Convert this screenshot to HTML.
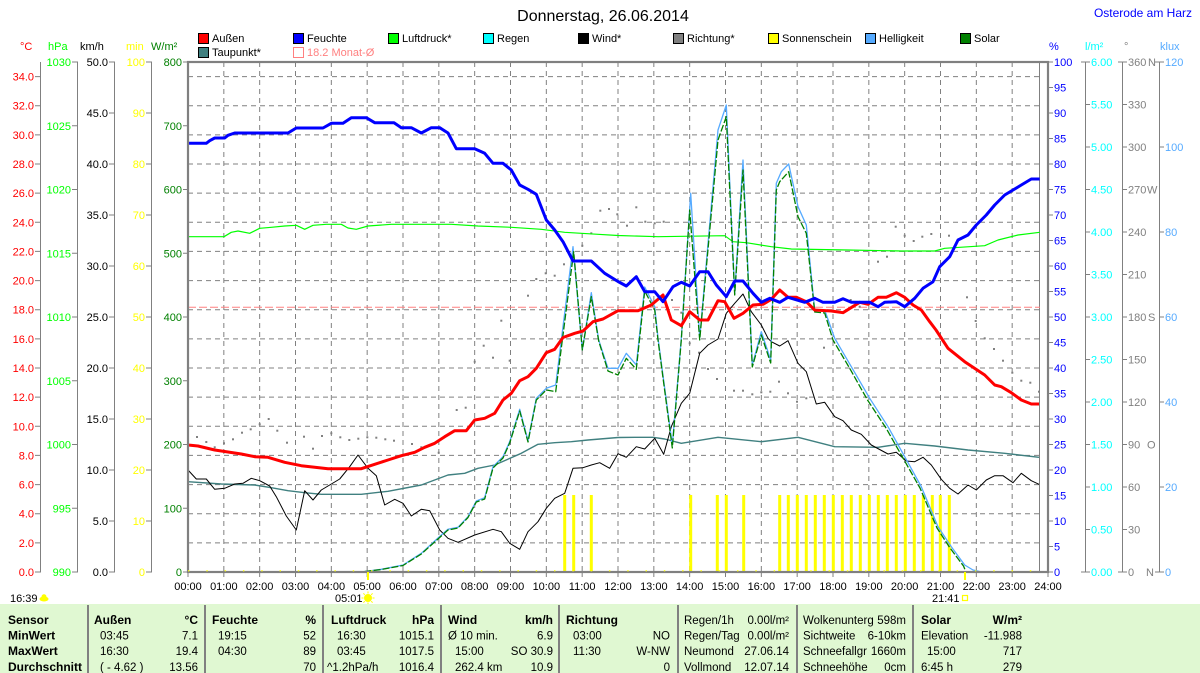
<!DOCTYPE html>
<html><head><meta charset="utf-8"><style>
html,body{margin:0;padding:0;background:#fff;}
svg{display:block;font-family:"Liberation Sans",Arial,sans-serif;}
.b{font-weight:bold;font-size:12px;}
.r{font-size:11.5px;}
</style></head><body>
<svg width="1200" height="673" viewBox="0 0 1200 673" xmlns="http://www.w3.org/2000/svg">
<rect width="1200" height="673" fill="#fff"/>
<!-- title -->
<text x="603" y="21" font-size="16" text-anchor="middle" fill="#000">Donnerstag, 26.06.2014</text>
<text x="1192" y="17" font-size="12" text-anchor="end" fill="#0000FF">Osterode am Harz</text>

<!-- legend -->
<g font-size="11" fill="#000">
<rect x="198.5" y="33.5" width="10" height="10" fill="#FF0000" stroke="#000"/><text x="212" y="42">Außen</text>
<rect x="293.5" y="33.5" width="10" height="10" fill="#0000FF" stroke="#000"/><text x="307" y="42">Feuchte</text>
<rect x="388.5" y="33.5" width="10" height="10" fill="#00FF00" stroke="#000"/><text x="402" y="42">Luftdruck*</text>
<rect x="483.5" y="33.5" width="10" height="10" fill="#00FFFF" stroke="#000"/><text x="497" y="42">Regen</text>
<rect x="578.5" y="33.5" width="10" height="10" fill="#000000" stroke="#000"/><text x="592" y="42">Wind*</text>
<rect x="673.5" y="33.5" width="10" height="10" fill="#808080" stroke="#000"/><text x="687" y="42">Richtung*</text>
<rect x="768.5" y="33.5" width="10" height="10" fill="#FFFF00" stroke="#000"/><text x="782" y="42">Sonnenschein</text>
<rect x="865.5" y="33.5" width="10" height="10" fill="#55AAFF" stroke="#000"/><text x="879" y="42">Helligkeit</text>
<rect x="960.5" y="33.5" width="10" height="10" fill="#008000" stroke="#000"/><text x="974" y="42">Solar</text>
<rect x="198.5" y="47.5" width="10" height="10" fill="#408080" stroke="#000"/><text x="212" y="56">Taupunkt*</text>
<rect x="293.5" y="47.5" width="10" height="10" fill="none" stroke="#FF8080"/><text x="307" y="56" fill="#FF8080">18.2 Monat-Ø</text>
</g>

<!-- axis headers -->
<g font-size="11">
<text x="20" y="50" fill="#FF0000">°C</text>
<text x="48" y="50" fill="#00FF00">hPa</text>
<text x="80" y="50" fill="#000">km/h</text>
<text x="126" y="50" fill="#FFFF00">min</text>
<text x="151" y="50" fill="#008000">W/m²</text>
<text x="1049" y="50" fill="#0000FF">%</text>
<text x="1085" y="50" fill="#00FFFF">l/m²</text>
<text x="1124" y="50" fill="#808080">°</text>
<text x="1160" y="50" fill="#55AAFF">klux</text>
</g>

<!-- grid -->
<g stroke="#808080" stroke-width="1" stroke-dasharray="5 4" fill="none">
<path d="M188 76.57H1040M188 105.71H1040M188 134.86H1040M188 164H1040M188 193.14H1040M188 222.29H1040M188 251.43H1040M188 280.57H1040M188 309.71H1040M188 338.86H1040M188 368H1040M188 397.14H1040M188 426.29H1040M188 455.43H1040M188 484.57H1040M188 513.71H1040M188 542.86H1040"/>
<path d="M223.83 62V572M259.67 62V572M295.5 62V572M331.33 62V572M367.17 62V572M403 62V572M438.83 62V572M474.67 62V572M510.5 62V572M546.33 62V572M582.17 62V572M618 62V572M653.83 62V572M689.67 62V572M725.5 62V572M761.33 62V572M797.17 62V572M833 62V572M868.83 62V572M904.67 62V572M940.5 62V572M976.33 62V572M1012.17 62V572"/>
</g>
<line x1="1039.5" y1="62" x2="1039.5" y2="572" stroke="#808080" stroke-width="1"/>

<!-- left axes -->
<g stroke="#808080" stroke-width="1" fill="none">
<path d="M40.5 62V572M77.5 62V572M114.5 62V572M151.5 62V572"/>
<path d="M35 572H41M35 542.86H41M35 513.71H41M35 484.57H41M35 455.43H41M35 426.29H41M35 397.14H41M35 368H41M35 338.86H41M35 309.71H41M35 280.57H41M35 251.43H41M35 222.29H41M35 193.14H41M35 164H41M35 134.86H41M35 105.71H41M35 76.57H41"/>
<path d="M72 572H78M72 508.25H78M72 444.5H78M72 380.75H78M72 317H78M72 253.25H78M72 189.5H78M72 125.75H78M72 62H78"/>
<path d="M109 572H115M109 521H115M109 470H115M109 419H115M109 368H115M109 317H115M109 266H115M109 215H115M109 164H115M109 113H115M109 62H115"/>
<path d="M146 572H152M146 521H152M146 470H152M146 419H152M146 368H152M146 317H152M146 266H152M146 215H152M146 164H152M146 113H152M146 62H152"/>
<path d="M183 572H188M183 508.25H188M183 444.5H188M183 380.75H188M183 317H188M183 253.25H188M183 189.5H188M183 125.75H188M183 62H188"/>
</g>
<g font-size="11" text-anchor="end">
<g fill="#FF0000">
<text x="34" y="576">0.0</text><text x="34" y="546.9">2.0</text><text x="34" y="517.7">4.0</text><text x="34" y="488.6">6.0</text><text x="34" y="459.4">8.0</text><text x="34" y="430.3">10.0</text><text x="34" y="401.1">12.0</text><text x="34" y="372">14.0</text><text x="34" y="342.9">16.0</text><text x="34" y="313.7">18.0</text><text x="34" y="284.6">20.0</text><text x="34" y="255.4">22.0</text><text x="34" y="226.3">24.0</text><text x="34" y="197.1">26.0</text><text x="34" y="168">28.0</text><text x="34" y="138.9">30.0</text><text x="34" y="109.7">32.0</text><text x="34" y="80.6">34.0</text>
</g>
<g fill="#00FF00">
<text x="71" y="576">990</text><text x="71" y="512.3">995</text><text x="71" y="448.5">1000</text><text x="71" y="384.8">1005</text><text x="71" y="321">1010</text><text x="71" y="257.3">1015</text><text x="71" y="193.5">1020</text><text x="71" y="129.8">1025</text><text x="71" y="66">1030</text>
</g>
<g fill="#000">
<text x="108" y="576">0.0</text><text x="108" y="525">5.0</text><text x="108" y="474">10.0</text><text x="108" y="423">15.0</text><text x="108" y="372">20.0</text><text x="108" y="321">25.0</text><text x="108" y="270">30.0</text><text x="108" y="219">35.0</text><text x="108" y="168">40.0</text><text x="108" y="117">45.0</text><text x="108" y="66">50.0</text>
</g>
<g fill="#FFFF00">
<text x="145" y="576">0</text><text x="145" y="525">10</text><text x="145" y="474">20</text><text x="145" y="423">30</text><text x="145" y="372">40</text><text x="145" y="321">50</text><text x="145" y="270">60</text><text x="145" y="219">70</text><text x="145" y="168">80</text><text x="145" y="117">90</text><text x="145" y="66">100</text>
</g>
<g fill="#008000">
<text x="182" y="576">0</text><text x="182" y="512.3">100</text><text x="182" y="448.5">200</text><text x="182" y="384.8">300</text><text x="182" y="321">400</text><text x="182" y="257.3">500</text><text x="182" y="193.5">600</text><text x="182" y="129.8">700</text><text x="182" y="66">800</text>
</g>
</g>

<!-- right axes -->
<g stroke="#808080" stroke-width="1" fill="none">
<path d="M1085.5 62V572M1122.5 62V572M1159.5 62V572"/>
<path d="M1048 572H1053M1048 546.5H1053M1048 521H1053M1048 495.5H1053M1048 470H1053M1048 444.5H1053M1048 419H1053M1048 393.5H1053M1048 368H1053M1048 342.5H1053M1048 317H1053M1048 291.5H1053M1048 266H1053M1048 240.5H1053M1048 215H1053M1048 189.5H1053M1048 164H1053M1048 138.5H1053M1048 113H1053M1048 87.5H1053M1048 62H1053"/>
<path d="M1081 572H1090M1085 529.5H1090M1085 487H1090M1085 444.5H1090M1085 402H1090M1085 359.5H1090M1085 317H1090M1085 274.5H1090M1085 232H1090M1085 189.5H1090M1085 147H1090M1085 104.5H1090M1081 62H1090"/>
<path d="M1118 572H1127M1122 529.5H1127M1122 487H1127M1122 444.5H1127M1122 402H1127M1122 359.5H1127M1122 317H1127M1122 274.5H1127M1122 232H1127M1122 189.5H1127M1122 147H1127M1122 104.5H1127M1118 62H1127"/>
<path d="M1155 572H1164M1159 487H1164M1159 402H1164M1159 317H1164M1159 232H1164M1159 147H1164M1155 62H1164"/>
</g>
<g font-size="11">
<g fill="#0000FF">
<text x="1054" y="576">0</text><text x="1054" y="550.5">5</text><text x="1054" y="525">10</text><text x="1054" y="499.5">15</text><text x="1054" y="474">20</text><text x="1054" y="448.5">25</text><text x="1054" y="423">30</text><text x="1054" y="397.5">35</text><text x="1054" y="372">40</text><text x="1054" y="346.5">45</text><text x="1054" y="321">50</text><text x="1054" y="295.5">55</text><text x="1054" y="270">60</text><text x="1054" y="244.5">65</text><text x="1054" y="219">70</text><text x="1054" y="193.5">75</text><text x="1054" y="168">80</text><text x="1054" y="142.5">85</text><text x="1054" y="117">90</text><text x="1054" y="91.5">95</text><text x="1054" y="66">100</text>
</g>
<g fill="#00FFFF">
<text x="1091" y="576">0.00</text><text x="1091" y="533.5">0.50</text><text x="1091" y="491">1.00</text><text x="1091" y="448.5">1.50</text><text x="1091" y="406">2.00</text><text x="1091" y="363.5">2.50</text><text x="1091" y="321">3.00</text><text x="1091" y="278.5">3.50</text><text x="1091" y="236">4.00</text><text x="1091" y="193.5">4.50</text><text x="1091" y="151">5.00</text><text x="1091" y="108.5">5.50</text><text x="1091" y="66">6.00</text>
</g>
<g fill="#808080">
<text x="1128" y="576">0</text><text x="1146" y="576">N</text>
<text x="1128" y="533.5">30</text><text x="1128" y="491">60</text>
<text x="1128" y="448.5">90</text><text x="1147" y="448.5">O</text>
<text x="1128" y="406">120</text><text x="1128" y="363.5">150</text>
<text x="1128" y="321">180</text><text x="1148" y="321">S</text>
<text x="1128" y="278.5">210</text><text x="1128" y="236">240</text>
<text x="1128" y="193.5">270</text><text x="1147" y="193.5">W</text>
<text x="1128" y="151">300</text><text x="1128" y="108.5">330</text>
<text x="1128" y="66">360</text><text x="1148" y="66">N</text>
</g>
<g fill="#55AAFF">
<text x="1165" y="576">0</text><text x="1165" y="491">20</text><text x="1165" y="406">40</text><text x="1165" y="321">60</text><text x="1165" y="236">80</text><text x="1165" y="151">100</text><text x="1165" y="66">120</text>
</g>
</g>

<!-- sunshine bars -->
<g fill="#FFFF00">
<rect x="563.2" y="495" width="3" height="77"/><rect x="572.2" y="495" width="3" height="77"/><rect x="589.8" y="495" width="3" height="77"/>
<rect x="689.2" y="495" width="3" height="77"/><rect x="715.8" y="495" width="3" height="77"/><rect x="724.8" y="495" width="3" height="77"/><rect x="742.2" y="495" width="3" height="77"/>
<rect x="778.2" y="495" width="3" height="77"/><rect x="786.8" y="495" width="3" height="77"/><rect x="795.8" y="495" width="3" height="77"/><rect x="804.8" y="495" width="3" height="77"/><rect x="813.8" y="495" width="3" height="77"/><rect x="822.8" y="495" width="3" height="77"/><rect x="831.8" y="495" width="3" height="77"/><rect x="840.8" y="495" width="3" height="77"/><rect x="849.8" y="495" width="3" height="77"/><rect x="858.8" y="495" width="3" height="77"/><rect x="867.8" y="495" width="3" height="77"/><rect x="876.8" y="495" width="3" height="77"/><rect x="885.8" y="495" width="3" height="77"/><rect x="894.8" y="495" width="3" height="77"/><rect x="903.8" y="495" width="3" height="77"/><rect x="912.8" y="495" width="3" height="77"/><rect x="921.8" y="495" width="3" height="77"/><rect x="930.8" y="495" width="3" height="77"/><rect x="938.8" y="495" width="3" height="77"/><rect x="947.8" y="495" width="3" height="77"/>
</g>

<!-- month average -->
<line x1="188" y1="307.3" x2="1040" y2="307.3" stroke="#FF8080" stroke-width="1" stroke-dasharray="8 3"/>

<!-- Richtung dots -->
<g fill="#808080">
<rect x="196" y="436" width="2" height="2"/><rect x="205.3" y="441" width="2" height="2"/><rect x="213.7" y="446.3" width="2" height="2"/><rect x="223" y="442.3" width="2" height="2"/><rect x="232" y="438.3" width="2" height="2"/><rect x="241" y="431.7" width="2" height="2"/><rect x="249.7" y="428.3" width="2" height="2"/><rect x="258.7" y="423.3" width="2" height="2"/><rect x="267.7" y="418" width="2" height="2"/><rect x="276.3" y="429.7" width="2" height="2"/><rect x="286" y="441.7" width="2" height="2"/><rect x="303" y="435.7" width="2" height="2"/><rect x="312" y="447.7" width="2" height="2"/><rect x="321" y="435" width="2" height="2"/><rect x="330.3" y="432.3" width="2" height="2"/><rect x="339.3" y="436.3" width="2" height="2"/><rect x="348.3" y="439" width="2" height="2"/><rect x="357.3" y="437.7" width="2" height="2"/><rect x="366.3" y="436.3" width="2" height="2"/><rect x="375.3" y="436.7" width="2" height="2"/><rect x="384.3" y="438.3" width="2" height="2"/><rect x="393" y="439.7" width="2" height="2"/><rect x="411" y="443" width="2" height="2"/><rect x="420.3" y="446.3" width="2" height="2"/><rect x="437.7" y="451.7" width="2" height="2"/><rect x="455.7" y="409" width="2" height="2"/><rect x="464.7" y="406.7" width="2" height="2"/><rect x="473.7" y="360.7" width="2" height="2"/><rect x="482.7" y="344.7" width="2" height="2"/><rect x="492" y="356.7" width="2" height="2"/><rect x="500.3" y="319.7" width="2" height="2"/><rect x="508.7" y="359.7" width="2" height="2"/><rect x="527" y="294.7" width="2" height="2"/><rect x="535.3" y="278" width="2" height="2"/><rect x="544.7" y="272.3" width="2" height="2"/><rect x="553.7" y="274.7" width="2" height="2"/><rect x="563" y="263.3" width="2" height="2"/><rect x="572" y="251.7" width="2" height="2"/><rect x="581.3" y="244.7" width="2" height="2"/><rect x="590.3" y="232.3" width="2" height="2"/><rect x="599.3" y="209.7" width="2" height="2"/><rect x="608" y="208" width="2" height="2"/><rect x="616.3" y="213.3" width="2" height="2"/><rect x="626" y="224.7" width="2" height="2"/><rect x="635.3" y="206.3" width="2" height="2"/><rect x="644.3" y="220.7" width="2" height="2"/><rect x="653.7" y="222.3" width="2" height="2"/><rect x="662.7" y="220.7" width="2" height="2"/><rect x="671" y="299" width="2" height="2"/><rect x="680.3" y="311.7" width="2" height="2"/><rect x="688.7" y="342.3" width="2" height="2"/><rect x="698" y="351.7" width="2" height="2"/><rect x="707" y="368" width="2" height="2"/><rect x="716" y="378" width="2" height="2"/><rect x="733" y="389.7" width="2" height="2"/><rect x="742" y="389.7" width="2" height="2"/><rect x="751.3" y="393.3" width="2" height="2"/><rect x="760.3" y="391.3" width="2" height="2"/><rect x="769.3" y="390.7" width="2" height="2"/><rect x="778" y="380.7" width="2" height="2"/><rect x="787" y="392.3" width="2" height="2"/><rect x="796" y="400.7" width="2" height="2"/><rect x="805.3" y="397.3" width="2" height="2"/><rect x="823" y="346.7" width="2" height="2"/><rect x="849.7" y="299" width="2" height="2"/><rect x="858.7" y="305.7" width="2" height="2"/><rect x="867.7" y="302.3" width="2" height="2"/><rect x="877" y="260.7" width="2" height="2"/><rect x="886" y="255.7" width="2" height="2"/><rect x="894.7" y="225.7" width="2" height="2"/><rect x="903.7" y="234.7" width="2" height="2"/><rect x="912.7" y="240" width="2" height="2"/><rect x="921.3" y="235.7" width="2" height="2"/><rect x="930.3" y="233" width="2" height="2"/><rect x="948" y="234.7" width="2" height="2"/><rect x="966" y="296.3" width="2" height="2"/><rect x="974.7" y="320" width="2" height="2"/><rect x="983.7" y="337.3" width="2" height="2"/><rect x="993" y="348" width="2" height="2"/><rect x="1002" y="359.7" width="2" height="2"/><rect x="1011.3" y="371.7" width="2" height="2"/><rect x="1020.3" y="379.7" width="2" height="2"/><rect x="1029.3" y="381.7" width="2" height="2"/><rect x="1038" y="390.7" width="2" height="2"/>
</g>

<!-- series -->
<g fill="none" stroke-linejoin="round">
<polyline stroke="#408080" stroke-width="1.4" points="188,481.7 221.3,484 254.7,485 271.3,487.7 288,490.7 304.7,492.7 321.3,494.3 361.3,494.3 388,491.3 421.3,485 448,475 464.7,473.3 478,468.3 494.7,465 521.3,453.3 538,444.3 554.7,442.7 571.3,441.7 588,440 618,437.5 634.7,437.3 653,437.3 664.7,439 681.3,443.3 718,437.3 761.3,441.7 798,437.3 834.7,446.7 878,447.3 904.7,443.3 934.7,446 968,450 1004.7,453.3 1039,457.3"/>
<polyline stroke="#000" stroke-width="1" points="188,470 196.3,479 206.3,479 214.7,489.3 224.7,488.3 234.7,484 243,483.3 251.3,478.3 259.7,480.7 269.7,486 276.3,496.7 286.3,516 296.3,530 304.7,490.7 313,500 321.3,490 329.7,485 339.7,479 349.7,466.7 358,455 368,468.3 376.3,475.7 384.7,505 394.7,499.3 403,503.3 411.3,516 421.3,509.3 429.7,510.7 439.7,530 448,538.3 458,542.3 474.7,535 493,529.3 501.3,531.7 509.7,543.3 519.7,549.3 528,531.7 538,521.7 546.3,508.3 554.7,498.3 564.7,493.3 573,468.3 583,467.7 591.3,465 599.7,462.7 609.7,468.3 618,453.7 626.3,457.3 636.3,446.7 644.7,449 654.7,438.3 663.7,454.3 671.3,426.7 681.3,403.3 689.7,393.3 699.7,353.3 708,345 718,339 726.3,313.3 734.7,303.3 743,294 751.3,311.7 761.3,325 768,338.3 771.3,341.7 779.7,346 788,340.7 798,363.3 806.3,371.7 816.3,404 824.7,402.3 834.7,416.7 843,420.7 851.3,430 861.3,434.3 871.3,445 888,454 896.3,452.3 906.3,461 914.7,461.7 923,457.3 931.3,465 941.3,479.3 949.7,488.3 958,494 968,485 976.3,490 986.3,480 994.7,475.7 1003,475.7 1013,482.7 1021.3,473.3 1031.3,480.7 1039,484.3"/>
<polyline stroke="#00FF00" stroke-width="1.2" points="188,236.7 224,236.7 231.3,232.3 238,231 249.7,233.3 259.7,228.3 271.3,227.3 284.7,226 296.3,225.3 304.7,229.3 313,225.3 326.3,224.3 341.3,224.3 348,228 356.3,229.3 368,226 391.3,224.3 451.3,224.3 478,226 511.3,227.3 541.3,229.3 564.7,232.3 581.3,233.3 598,234.3 618,235.5 658,236.7 724.7,235.7 733,241.7 746.3,242.7 771.3,246.7 791.3,249 848,250 901.3,251 934.7,251 944.7,248.3 984.7,245.7 998,240 1018,235 1039.7,232.3"/>
<polyline stroke="#55AAFF" stroke-width="1.3" points="364.7,571.5 381.3,569.3 403,565 421.3,553.3 441.3,535 448,529.3 458,527.3 468,516.7 476.3,501 484.7,497.7 493,466.7 503,456.7 509.7,441.7 519.7,409.3 528,440.7 536.3,398.3 546.3,388.3 555.7,385 573,246.7 582.3,350 591.3,292.7 598.7,340 608,368.3 618,368.3 626.3,353.3 636.3,365 644.7,287 654.7,306.7 658,338 672.3,445 681.3,338.3 690.7,193.3 699.7,338 718,130 726.3,105 734.7,293.3 743,160 752.3,365 761.3,331.7 770.7,360 776.3,183.3 781.3,171.7 788.7,164 798,206.7 806.3,225 814.7,310 824.7,310 834.7,338.3 851.3,366.7 869.7,398.3 888,426.7 904.7,456.7 921.3,486.7 938,526.7 951.3,546.7 964.7,565 973,570 979.7,571.5"/>
<polyline stroke="#008000" stroke-width="1.3" stroke-dasharray="7 2" points="364.7,571.5 381.3,569.5 403,565.5 421.3,554 441.3,536 448,530 458,528 468,517.5 476.3,502 484.7,499 493,468 503,458 509.7,443 519.7,411 528,442 536.3,400 546.3,390 555.7,391.7 573.7,251.7 582.3,350 591.3,296.7 598.7,341 608,371 618,375 626.3,358.3 636.3,369.3 644.7,291 654.7,310 658,340 672.3,448 681.3,340 689.7,210 699.7,340 718,140 726.3,116.7 734.7,295 743,170 752.3,367 761.3,335 770.7,363 776.3,190 779.7,181.7 788.7,171.7 798,216.7 806.3,233.3 814.7,312 824.7,313 833,340 849.5,368 867.5,400 886,428 903,458 920,488 937,528 950,548 963.5,566 966,572"/>
<polyline stroke="#FF0000" stroke-width="3" points="188,445 198,446 214.7,450 228,452 241.3,454 254.7,456.7 268,457.3 284.7,462.3 301.3,465.7 314.7,467.3 328,468.7 361.3,468.7 374.7,464.3 388,460 401.3,455.7 414.7,452.3 424.7,447.3 434.7,443.3 444.7,436.7 454.7,430.7 466.3,430.7 474.7,420 484.7,418.3 494.7,413.3 503,400 511.3,393.3 519.7,380.7 528,376.7 536.3,368.3 546.3,352.7 554.7,349.3 563,337.5 574.7,333.3 583,331 593,321.7 603,319 618,310.7 638,310.7 651.3,305 663,295 671.3,320 681.3,325.7 689.7,311.7 699.7,320 708,320 718,300.7 724.7,301.7 734,318.3 743,313.3 753,305 763,304.3 771.3,299.3 779.7,290 788,297.3 796.3,297.3 806.3,301.7 814.7,310 831.3,311 843,312.7 859.7,302.3 868,304.3 878,297.3 886.3,297.3 896.3,292.7 904.7,297.3 913,305 921.3,310 929.7,321.7 936,330 948,348.3 964.7,361.7 984.7,375 994.7,385 1001.3,386.7 1011.3,392.7 1021.3,400 1031.3,404 1039,404"/>
<polyline stroke="#0000FF" stroke-width="3" points="188,143.3 206.3,143.3 209.7,140.7 214.7,138 224.7,138 228,135.3 234.7,133 288,133 296.3,128 323,128 331.3,123.3 343,123.3 351.3,117.7 366.3,117.7 374.7,122.7 394,122.7 401.3,127.7 411.3,127.7 421.3,133 431.3,127.7 439.7,127.7 448,133 456.3,148.7 474.7,148.7 484.7,153.3 493,163.3 503,163.3 511.3,170 519.7,185 528,189.3 536.3,194.3 546.3,220 554.7,230 563,241.7 573,261 591.3,261 604.7,273.3 618,281.5 626.3,286 636.3,276.7 644.7,291.7 654.7,291.7 663,301.7 673,286.7 681.3,282.3 689.7,286 699.7,271.7 708,271.7 716.3,285 726.3,296.7 734.7,281 743,281 753,293.3 761.3,302.3 769.7,298.3 779.7,302.3 788,297.3 804.7,302.3 814.7,298.3 823,302.3 834.7,302.3 843,298.7 851.3,302.3 869.7,302.3 878,306.7 884.7,302.3 896.3,301.7 904.7,306.7 914.7,298.3 923,288.3 933,281.7 939.7,266.7 949.7,256.7 958,240 968,235 976.3,225 986.3,215 994.7,205 1004.7,195 1013,190 1021.3,185 1031.3,179 1039.7,179"/>
</g>

<!-- plot border -->
<rect x="188" y="62" width="860" height="510" fill="none" stroke="#808080" stroke-width="2.2"/>
<line x1="188" y1="570.8" x2="1040" y2="570.8" stroke="#FFFF00" stroke-width="1.2" stroke-dasharray="1.5 16.8"/>
<!-- x ticks -->
<path d="M188 572V577M223.83 572V577M259.67 572V577M295.5 572V577M331.33 572V577M367.17 572V577M403 572V577M438.83 572V577M474.67 572V577M510.5 572V577M546.33 572V577M582.17 572V577M618 572V577M653.83 572V577M689.67 572V577M725.5 572V577M761.33 572V577M797.17 572V577M833 572V577M868.83 572V577M904.67 572V577M940.5 572V577M976.33 572V577M1012.17 572V577M1048 572V577" stroke="#808080" stroke-width="1"/>
<line x1="368" y1="572" x2="368" y2="580" stroke="#FFFF00" stroke-width="2"/>
<line x1="965" y1="572" x2="965" y2="580" stroke="#FFFF00" stroke-width="2"/>

<g font-size="11" text-anchor="middle" fill="#000">
<text x="188" y="590">00:00</text><text x="223.83" y="590">01:00</text><text x="259.67" y="590">02:00</text><text x="295.5" y="590">03:00</text><text x="331.33" y="590">04:00</text><text x="367.17" y="590">05:00</text><text x="403" y="590">06:00</text><text x="438.83" y="590">07:00</text><text x="474.67" y="590">08:00</text><text x="510.5" y="590">09:00</text><text x="546.33" y="590">10:00</text><text x="582.17" y="590">11:00</text><text x="618" y="590">12:00</text><text x="653.83" y="590">13:00</text><text x="689.67" y="590">14:00</text><text x="725.5" y="590">15:00</text><text x="761.33" y="590">16:00</text><text x="797.17" y="590">17:00</text><text x="833" y="590">18:00</text><text x="868.83" y="590">19:00</text><text x="904.67" y="590">20:00</text><text x="940.5" y="590">21:00</text><text x="976.33" y="590">22:00</text><text x="1012.17" y="590">23:00</text><text x="1048" y="590">24:00</text>
</g>
<g font-size="11" fill="#000">
<text x="10" y="602">16:39</text>
<text x="335" y="602">05:01</text>
<text x="932" y="602">21:41</text>
</g>
<!-- icons -->
<g fill="#FFFF00">
<ellipse cx="44" cy="599" rx="4.5" ry="2.5"/><circle cx="44" cy="596.8" r="2.5"/>
<circle cx="368" cy="598" r="4"/>
</g>
<g stroke="#FFFF00" stroke-width="1">
<path d="M368 591.5V593.5M368 602.5V604.5M361.5 598H363.5M372.5 598H374.5M363.4 593.4L364.8 594.8M371.2 601.2L372.6 602.6M363.4 602.6L364.8 601.2M371.2 594.8L372.6 593.4"/>
</g>
<rect x="962.5" y="595.5" width="5" height="5" fill="none" stroke="#FFFF00" stroke-width="1.2"/>

<!-- table -->
<rect x="0" y="604" width="1200" height="69" fill="#E0F8D2"/>
<g stroke="#808080" stroke-width="2">
<path d="M88 605V673M205 605V673M323 605V673M441 605V673M559 605V673M678 605V673M797 605V673M913 605V673"/>
</g>
<g fill="#000">
<g class="b">
<text x="8" y="624">Sensor</text><text x="8" y="639.5">MinWert</text><text x="8" y="655">MaxWert</text><text x="8" y="671">Durchschnitt</text>
<text x="94" y="624">Außen</text><text x="198" y="624" text-anchor="end">°C</text>
<text x="212" y="624">Feuchte</text><text x="316" y="624" text-anchor="end">%</text>
<text x="331" y="624">Luftdruck</text><text x="434" y="624" text-anchor="end">hPa</text>
<text x="448" y="624">Wind</text><text x="553" y="624" text-anchor="end">km/h</text>
<text x="566" y="624">Richtung</text>
<text x="921" y="624">Solar</text><text x="1022" y="624" text-anchor="end">W/m²</text>
</g>
<g class="r">
<text x="100" y="639.5">03:45</text><text x="198" y="639.5" text-anchor="end">7.1</text>
<text x="100" y="655">16:30</text><text x="198" y="655" text-anchor="end">19.4</text>
<text x="100" y="671">( - 4.62 )</text><text x="198" y="671" text-anchor="end">13.56</text>
<text x="218" y="639.5">19:15</text><text x="316" y="639.5" text-anchor="end">52</text>
<text x="218" y="655">04:30</text><text x="316" y="655" text-anchor="end">89</text>
<text x="316" y="671" text-anchor="end">70</text>
<text x="337" y="639.5">16:30</text><text x="434" y="639.5" text-anchor="end">1015.1</text>
<text x="337" y="655">03:45</text><text x="434" y="655" text-anchor="end">1017.5</text>
<text x="327" y="671">^1.2hPa/h</text><text x="434" y="671" text-anchor="end">1016.4</text>
<text x="448" y="639.5">Ø 10 min.</text><text x="553" y="639.5" text-anchor="end">6.9</text>
<text x="455" y="655">15:00</text><text x="553" y="655" text-anchor="end">SO 30.9</text>
<text x="455" y="671">262.4 km</text><text x="553" y="671" text-anchor="end">10.9</text>
<text x="573" y="639.5">03:00</text><text x="670" y="639.5" text-anchor="end">NO</text>
<text x="573" y="655">11:30</text><text x="670" y="655" text-anchor="end">W-NW</text>
<text x="670" y="671" text-anchor="end">0</text>
<text x="684" y="624">Regen/1h</text><text x="789" y="624" text-anchor="end">0.00l/m²</text>
<text x="684" y="639.5">Regen/Tag</text><text x="789" y="639.5" text-anchor="end">0.00l/m²</text>
<text x="684" y="655">Neumond</text><text x="789" y="655" text-anchor="end">27.06.14</text>
<text x="684" y="671">Vollmond</text><text x="789" y="671" text-anchor="end">12.07.14</text>
<text x="803" y="624">Wolkenunterg</text><text x="906" y="624" text-anchor="end">598m</text>
<text x="803" y="639.5">Sichtweite</text><text x="906" y="639.5" text-anchor="end">6-10km</text>
<text x="803" y="655">Schneefallgr</text><text x="906" y="655" text-anchor="end">1660m</text>
<text x="803" y="671">Schneehöhe</text><text x="906" y="671" text-anchor="end">0cm</text>
<text x="921" y="639.5">Elevation</text><text x="1022" y="639.5" text-anchor="end">-11.988</text>
<text x="927" y="655">15:00</text><text x="1022" y="655" text-anchor="end">717</text>
<text x="921" y="671">6:45 h</text><text x="1022" y="671" text-anchor="end">279</text>
</g>
</g>
</svg>
</body></html>
